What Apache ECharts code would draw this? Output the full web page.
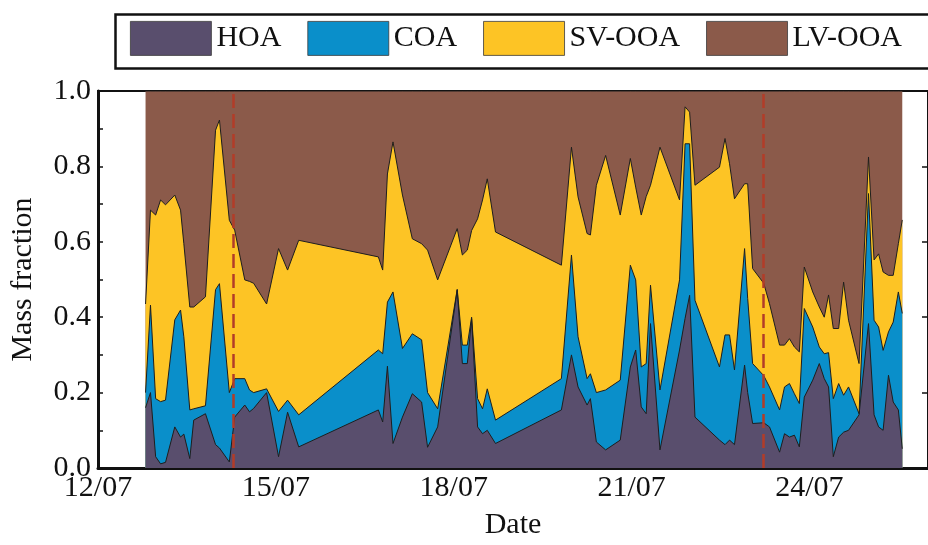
<!DOCTYPE html>
<html>
<head>
<meta charset="utf-8">
<script src="https://cdn.jsdelivr.net/npm/echarts@6/dist/echarts.min.js"></script>
<style>
html,body{margin:0;padding:0;background:#fff;}
#chart{width:928px;height:545px;}
</style>
</head>
<body>
<div id="chart"></div>
<script>
// Sample times (UTC)
var times = [
'2018-07-12T19:15:00Z','2018-07-12T21:15:00Z','2018-07-12T23:20:00Z','2018-07-13T01:20:00Z','2018-07-13T03:20:00Z',
'2018-07-13T07:05:00Z','2018-07-13T09:25:00Z','2018-07-13T10:45:00Z','2018-07-13T13:10:00Z','2018-07-13T14:45:00Z',
'2018-07-13T19:30:00Z','2018-07-13T23:35:00Z','2018-07-14T01:10:00Z','2018-07-14T05:10:00Z','2018-07-14T07:20:00Z',
'2018-07-14T11:25:00Z','2018-07-14T13:20:00Z','2018-07-14T15:00:00Z','2018-07-14T20:15:00Z','2018-07-15T01:05:00Z',
'2018-07-15T04:45:00Z','2018-07-15T09:15:00Z','2018-07-16T17:30:00Z','2018-07-16T19:15:00Z','2018-07-16T21:10:00Z',
'2018-07-16T23:25:00Z','2018-07-17T03:15:00Z','2018-07-17T07:15:00Z','2018-07-17T11:00:00Z','2018-07-17T13:25:00Z',
'2018-07-17T17:30:00Z','2018-07-18T01:25:00Z','2018-07-18T03:30:00Z','2018-07-18T05:30:00Z','2018-07-18T07:15:00Z',
'2018-07-18T09:40:00Z','2018-07-18T11:40:00Z','2018-07-18T13:35:00Z','2018-07-18T16:55:00Z','2018-07-19T19:35:00Z',
'2018-07-19T23:40:00Z','2018-07-20T02:20:00Z','2018-07-20T06:00:00Z','2018-07-20T07:20:00Z','2018-07-20T09:45:00Z',
'2018-07-20T13:30:00Z','2018-07-20T19:25:00Z','2018-07-20T23:30:00Z','2018-07-21T01:40:00Z','2018-07-21T03:55:00Z',
'2018-07-21T05:55:00Z','2018-07-21T07:40:00Z','2018-07-21T11:30:00Z','2018-07-21T19:25:00Z','2018-07-21T21:40:00Z',
'2018-07-21T23:30:00Z','2018-07-22T01:40:00Z','2018-07-22T11:35:00Z','2018-07-22T13:50:00Z','2018-07-22T15:40:00Z',
'2018-07-22T17:40:00Z','2018-07-22T21:45:00Z','2018-07-22T23:00:00Z','2018-07-23T01:00:00Z','2018-07-23T05:30:00Z',
'2018-07-23T07:50:00Z','2018-07-23T11:55:00Z','2018-07-23T13:55:00Z','2018-07-23T15:55:00Z','2018-07-23T17:55:00Z',
'2018-07-23T19:55:00Z','2018-07-23T21:55:00Z','2018-07-24T01:20:00Z','2018-07-24T04:00:00Z','2018-07-24T06:00:00Z',
'2018-07-24T07:45:00Z','2018-07-24T09:40:00Z','2018-07-24T11:50:00Z','2018-07-24T13:50:00Z','2018-07-24T15:50:00Z',
'2018-07-24T20:05:00Z','2018-07-24T23:55:00Z','2018-07-25T02:10:00Z','2018-07-25T04:00:00Z','2018-07-25T05:50:00Z',
'2018-07-25T08:00:00Z','2018-07-25T09:55:00Z','2018-07-25T12:00:00Z','2018-07-25T13:35:00Z'
];
var hoa = [
0.16,0.20,0.03,0.011,0.015,0.109,0.082,0.09,0.025,0.127,
0.144,0.062,0.053,0.016,0.135,0.167,0.149,0.158,0.2,0.03,
0.148,0.056,0.154,0.122,0.27,0.065,0.135,0.197,0.175,0.055,
0.109,0.472,0.277,0.277,0.396,0.109,0.091,0.1,0.065,0.154,
0.30,0.215,0.167,0.184,0.069,0.048,0.074,0.268,0.313,0.162,
0.144,0.383,0.048,0.313,0.397,0.458,0.135,0.074,0.062,0.074,
0.062,0.273,0.2,0.118,0.12,0.109,0.042,0.091,0.082,0.087,
0.056,0.188,0.233,0.277,0.237,0.215,0.03,0.082,0.095,0.1,
0.141,0.383,0.141,0.109,0.1,0.246,0.175,0.154,0.051
];
var coa = [
0.04,0.232,0.154,0.165,0.165,0.284,0.337,0.258,0.129,0.03,
0.021,0.411,0.436,0.184,0.102,0.07,0.058,0.042,0.01,0.12,
0.032,0.085,0.159,0.181,0.17,0.402,0.182,0.159,0.165,0.145,
0.048,0.002,0.049,0.049,0.004,0.075,0.066,0.11,0.062,0.083,
0.265,0.133,0.07,0.066,0.131,0.159,0.159,0.27,0.186,0.106,
0.133,0.102,0.159,0.186,0.463,0.402,0.31,0.194,0.291,0.279,
0.198,0.309,0.25,0.159,0.125,0.106,0.112,0.124,0.142,0.11,
0.115,0.235,0.141,0.044,0.066,0.091,0.154,0.142,0.098,0.115,
0.003,0.345,0.251,0.265,0.212,0.115,0.212,0.313,0.359
];
var svooa = [
0.235,0.252,0.487,0.535,0.518,0.331,0.265,0.247,0.273,0.27,
0.289,0.423,0.434,0.457,0.394,0.262,0.288,0.29,0.225,0.432,
0.345,0.463,0.247,0.222,0.34,0.398,0.407,0.252,0.255,0.378,
0.342,0.161,0.239,0.252,0.23,0.477,0.554,0.557,0.499,0.301,
0.286,0.371,0.385,0.368,0.55,0.622,0.438,0.283,0.246,0.403,
0.443,0.265,0.644,0.212,0.098,0.084,0.305,0.53,0.521,0.454,
0.454,0.172,0.304,0.252,0.245,0.221,0.172,0.111,0.119,0.124,
0.137,0.11,0.093,0.106,0.097,0.153,0.186,0.146,0.30,0.177,
0.133,0.097,0.16,0.194,0.208,0.15,0.124,0.128,0.248
];
var lvooa = [
0.565,0.316,0.329,0.289,0.302,0.276,0.316,0.405,0.573,0.573,
0.546,0.104,0.077,0.343,0.369,0.501,0.505,0.51,0.565,0.418,
0.475,0.396,0.44,0.475,0.22,0.135,0.276,0.392,0.405,0.422,
0.501,0.365,0.435,0.422,0.37,0.339,0.289,0.233,0.374,0.462,
0.149,0.281,0.378,0.382,0.25,0.171,0.329,0.179,0.255,0.329,
0.28,0.25,0.149,0.289,0.042,0.056,0.25,0.202,0.126,0.193,
0.286,0.246,0.246,0.471,0.51,0.564,0.674,0.674,0.657,0.679,
0.692,0.467,0.533,0.573,0.60,0.541,0.63,0.63,0.507,0.608,
0.723,0.175,0.448,0.432,0.48,0.489,0.489,0.405,0.342
];
var seriesNames = ['HOA','COA','SV-OOA','LV-OOA'];
var seriesColors = ['#594e6d','#0a8fca','#fdc425','#8b5a4a'];
var markerTimes = ['2018-07-14T06:55:00Z','2018-07-23T05:30:00Z'];
var xStart = '2018-07-12T00:00:00Z', xEnd = '2018-07-26T00:00:00Z';
var DAY = 86400000;

var font = 'Liberation Serif';
var values = [hoa, coa, svooa, lvooa];
// stacking: each band drawn as an area from 0 to the running total of the layers beneath it
var running = times.map(function(){ return 0; });
var stacked = values.map(function(arr){
  running = running.map(function(r, i){ return r + arr[i]; });
  return times.map(function(t, i){ return [Date.parse(t), running[i]]; });
});
var series = [];
for (var k = 3; k >= 0; k--) {
  var s = {
    name: seriesNames[k], type: 'line', data: stacked[k],
    symbol: 'none', showSymbol: false, smooth: false,
    color: seriesColors[k],
    lineStyle: {color: '#1e1e1e', width: 1},
    areaStyle: {color: seriesColors[k], opacity: 1, origin: 'start'},
    itemStyle: {color: seriesColors[k]},
    emphasis: {disabled: true},
    z: 2
  };
  if (k === 0) {
    s.markLine = {
      silent: true, symbol: ['none','none'], label: {show: false},
      lineStyle: {color: '#b23c28', width: 2.5, type: [14, 6]},
      data: markerTimes.map(function(t){ return {xAxis: Date.parse(t)}; })
    };
  }
  series.push(s);
}

function pad(n){ return (n<10?'0':'')+n; }
var chart = echarts.init(document.getElementById('chart'), null, {renderer: 'canvas'});
chart.setOption({
  animation: false,
  backgroundColor: '#ffffff',
  textStyle: {fontFamily: font},
  graphic: [{
    type: 'rect', left: 113, top: 12, silent: true, z: 0,
    shape: {width: 880, height: 54},
    style: {fill: 'none', stroke: '#111', lineWidth: 2.5}
  }],
  legend: {
    left: 113, top: 12, width: 830,
    padding: [9, 40, 10, 17],
    borderWidth: 0,
    itemWidth: 81, itemHeight: 34, itemGap: 26,
    icon: 'rect',
    itemStyle: {borderColor: '#3a3a3a', borderWidth: 0.8},
    textStyle: {fontFamily: font, fontSize: 30, color: '#111'},
    data: seriesNames
  },
  grid: {
    left: 98, right: -3, top: 91, bottom: 76,
    show: true, borderColor: '#111', borderWidth: 2, backgroundColor: 'transparent'
  },
  xAxis: {
    type: 'value',
    min: Date.parse(xStart), max: Date.parse(xEnd), interval: 3*DAY,
    name: 'Date', nameLocation: 'middle', nameGap: 42,
    nameTextStyle: {fontFamily: font, fontSize: 30, color: '#111'},
    axisLine: {show: true, lineStyle: {color: '#111', width: 3}},
    axisTick: {show: true, inside: true, length: 5, lineStyle: {color: '#111', width: 1.5}},
    splitLine: {show: false},
    axisLabel: {
      fontFamily: font, fontSize: 30, color: '#111', margin: 5, showMaxLabel: false,
      formatter: function(v){ var d = new Date(v); return pad(d.getUTCDate()) + '/' + pad(d.getUTCMonth()+1); }
    }
  },
  yAxis: [{
    type: 'value', min: 0, max: 1, interval: 0.2,
    name: 'Mass fraction', nameLocation: 'middle', nameGap: 60,
    nameTextStyle: {fontFamily: font, fontSize: 30, color: '#111'},
    axisLine: {show: true, lineStyle: {color: '#111', width: 3}},
    axisTick: {show: true, inside: true, length: 5, lineStyle: {color: '#111', width: 1.5}},
    minorTick: {show: true, splitNumber: 2, length: 5, lineStyle: {color: '#111', width: 1.5}},
    splitLine: {show: false},
    axisLabel: {fontFamily: font, fontSize: 30, color: '#111', margin: 7,
      formatter: function(v){ return v.toFixed(1); }}
  }, {
    type: 'value', min: 0, max: 1, interval: 0.2, position: 'right',
    axisLine: {show: true, lineStyle: {color: '#111', width: 2}},
    axisTick: {show: true, inside: true, length: 6, lineStyle: {color: '#111', width: 1.5}},
    splitLine: {show: false},
    axisLabel: {show: false}
  }],
  series: series
});
</script>
</body>
</html>
